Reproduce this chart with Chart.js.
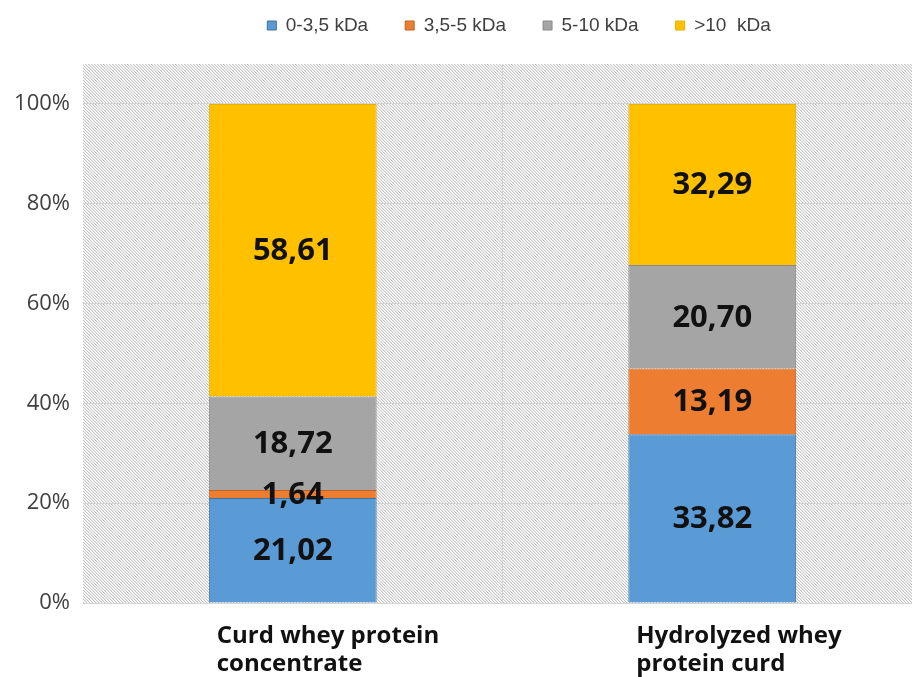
<!DOCTYPE html>
<html>
<head>
<meta charset="utf-8">
<script src="https://cdn.jsdelivr.net/npm/chart.js@4.4.0/dist/chart.umd.min.js"></script>
<style>
  html, body { margin: 0; padding: 0; background: #fff; overflow: hidden; }
  #wrap { width: 922px; height: 677px; }
</style>
</head>
<body>
<div id="wrap"><canvas id="c"></canvas></div>
<script>
var categories = [['Curd whey protein', 'concentrate'], ['Hydrolyzed whey', 'protein curd']];
var seriesNames = ['0-3,5 kDa', '3,5-5 kDa', '5-10 kDa', '>10  kDa'];
var fraction0to35 = [21.02, 33.82];
var fraction35to5 = [1.64, 13.19];
var fraction5to10 = [18.72, 20.70];
var fractionOver10 = [58.61, 32.29];
var yTickValues = [0, 20, 40, 60, 80, 100];

function makeHatch() {
  var t = document.createElement('canvas');
  t.width = 3; t.height = 3;
  var g = t.getContext('2d');
  g.fillStyle = '#ffffff';
  g.fillRect(0, 0, 3, 3);
  for (var i = 0; i < 3; i++) {
    g.fillStyle = '#c6c6c6';
    g.fillRect(i, i, 1, 1);
    g.fillStyle = '#ececec';
    g.fillRect((i + 1) % 3, i, 1, 1);
  }
  return t;
}

var hatchBg = {
  id: 'hatchBg',
  beforeDraw: function (chart) {
    var a = chart.chartArea;
    var ctx = chart.ctx;
    ctx.save();
    ctx.fillStyle = ctx.createPattern(makeHatch(), 'repeat');
    ctx.fillRect(a.left, a.top, a.right - a.left, a.bottom - a.top);
    ctx.restore();
  }
};

var legendPlace = {
  id: 'legendPlace',
  beforeInit: function (chart) {
    var fit = chart.legend.fit;
    chart.legend.fit = function () {
      fit.bind(chart.legend)();
      this.height = 64;
    };
  },
  afterLayout: function (chart) {
    var dx = 58;
    chart.legend.left += dx;
    chart.legend.right += dx;
    chart.legend.top -= 21;
  }
};

var valueLabels = {
  id: 'valueLabels',
  afterDatasetsDraw: function (chart) {
    var ctx = chart.ctx;
    ctx.save();
    ctx.font = 'bold 31px "Open Sans"';
    ctx.fillStyle = '#111';
    ctx.textAlign = 'center';
    ctx.textBaseline = 'middle';
    chart.data.datasets.forEach(function (ds, di) {
      var meta = chart.getDatasetMeta(di);
      meta.data.forEach(function (bar, i) {
        var v = ds.data[i];
        ctx.fillText(v.toFixed(2).replace('.', ','), bar.x, (bar.y + bar.base) / 2 + 1);
      });
    });
    ctx.restore();
  }
};

new Chart(document.getElementById('c'), {
  type: 'bar',
  data: {
    labels: categories,
    datasets: [
      { label: seriesNames[0], data: fraction0to35, backgroundColor: '#5b9bd5', borderColor: '#41719c', borderWidth: 1 },
      { label: seriesNames[1], data: fraction35to5, backgroundColor: '#ed7d31', borderColor: '#c0631f', borderWidth: 1 },
      { label: seriesNames[2], data: fraction5to10, backgroundColor: '#a5a5a5', borderColor: '#8a8a8a', borderWidth: 1 },
      { label: seriesNames[3], data: fractionOver10, backgroundColor: '#ffc000', borderColor: '#e8b000', borderWidth: 1 }
    ]
  },
  options: {
    responsive: true,
    maintainAspectRatio: false,
    animation: false,
    layout: { padding: 0 },
    datasets: { bar: { categoryPercentage: 1, barPercentage: 0.4 } },
    plugins: {
      tooltip: { enabled: false },
      legend: {
        position: 'top',
        labels: {
          boxWidth: 9,
          boxHeight: 9,
          padding: 37,
          color: '#404040',
          font: { family: '"Liberation Sans"', size: 19 }
        }
      }
    },
    scales: {
      x: {
        stacked: true,
        border: { display: false },
        afterFit: function (s) {
          s.height = 74;
          s.paddingLeft = 0;
          s.paddingRight = 0;
        },
        grid: {
          offset: true,
          drawTicks: false,
          color: function (c) { return c.index === 1 ? '#d4d4d4' : 'rgba(0,0,0,0)'; }
        },
        ticks: {
          align: 'start',
          labelOffset: -76,
          padding: 19,
          color: '#111',
          font: { family: '"Open Sans"', size: 24, weight: 'bold', lineHeight: 1.17 }
        }
      },
      y: {
        stacked: true,
        min: 0,
        max: 108,
        border: { display: false },
        afterFit: function (s) { s.width = 83; },
        afterBuildTicks: function (s) {
          s.ticks = yTickValues.map(function (v) { return { value: v }; });
        },
        grid: { drawTicks: false, color: '#d4d4d4' },
        ticks: {
          padding: 13,
          color: '#404040',
          font: { family: '"Open Sans"', size: 22 },
          callback: function (v) { return v + '%'; }
        }
      }
    }
  },
  plugins: [hatchBg, legendPlace, valueLabels]
});
</script>
</body>
</html>
